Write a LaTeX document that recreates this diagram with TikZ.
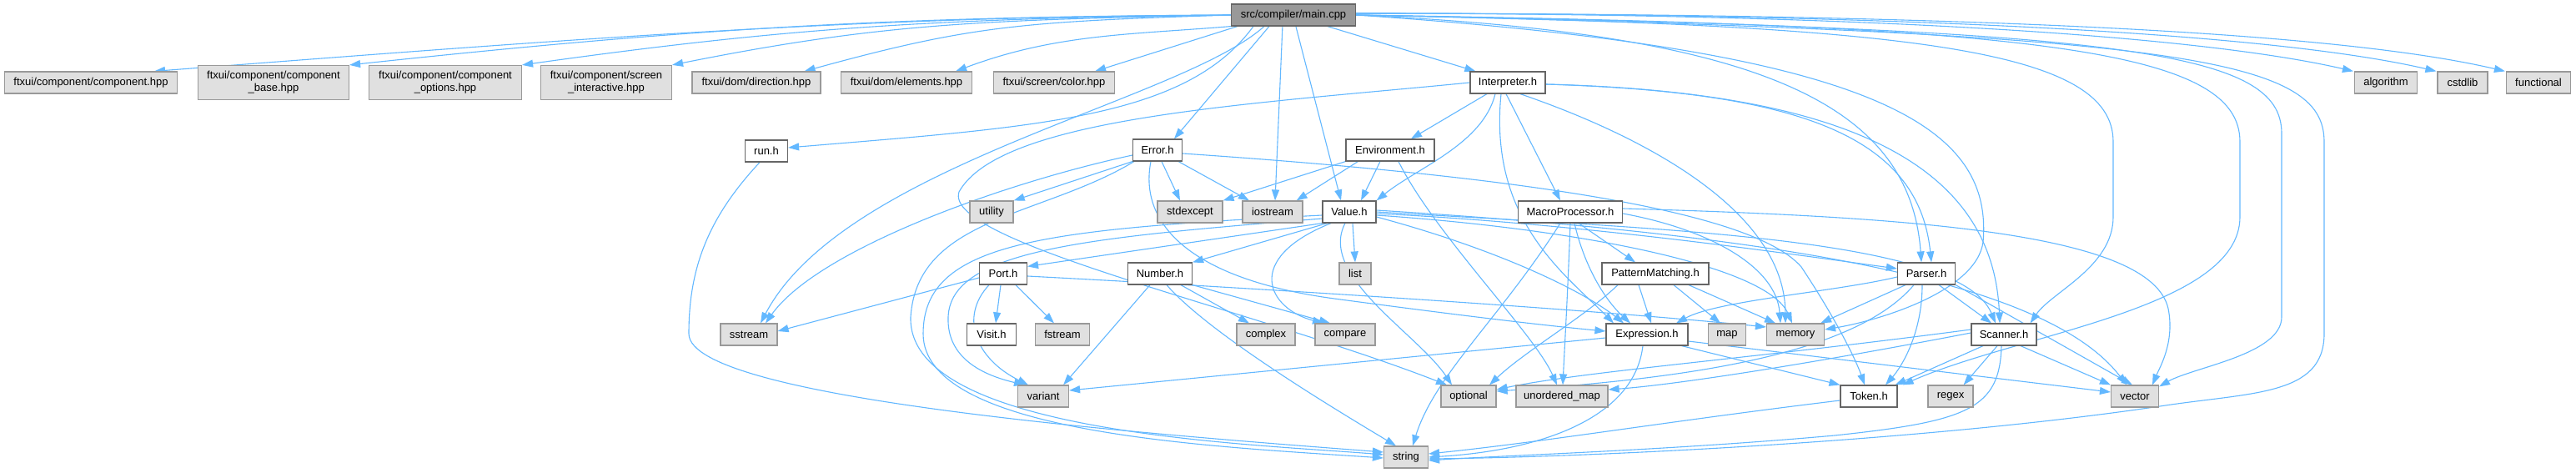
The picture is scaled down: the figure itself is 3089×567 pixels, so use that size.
\documentclass[tikz,border=0pt]{standalone}
\usepackage{fontspec}
\setmainfont{Liberation Sans}
\usetikzlibrary{arrows.meta}
\definecolor{edgeblue}{HTML}{63B8FF}
\definecolor{gfill}{HTML}{E0E0E0}
\definecolor{gline}{HTML}{999999}
\definecolor{wline}{HTML}{666666}
\definecolor{mfill}{HTML}{999999}
\pgfdeclarelayer{bg}
\pgfsetlayers{bg,main}
\tikzset{
  nbase/.style={rectangle, line width=1.2pt, inner sep=0pt, minimum height=26pt, align=center, font=\fontsize{13}{15}\selectfont},
  gbox/.style={nbase, draw=gline, fill=gfill},
  wbox/.style={nbase, draw=wline, fill=white},
  mbox/.style={nbase, draw=wline, fill=mfill},
  tall/.style={minimum height=41pt},
  e/.style={draw=edgeblue, line width=1.1pt, -{Triangle[length=13pt,width=9pt]}}
}
\begin{document}
\begin{tikzpicture}[x=1pt,y=1pt]
\useasboundingbox (0,0) rectangle (3089,-567);
% row 0
\node[mbox, minimum width=149pt] (main) at (1551,-18) {src/compiler/main.cpp};
% row 1
\node[gbox, minimum width=207pt] (comp) at (109,-99) {ftxui/component/component.hpp};
\node[gbox, tall, minimum width=181pt] (cbase) at (328,-99) {ftxui/component/component\\\_base.hpp};
\node[gbox, tall, minimum width=183pt] (copt) at (534,-99) {ftxui/component/component\\\_options.hpp};
\node[gbox, tall, minimum width=157pt] (scr) at (727,-99) {ftxui/component/screen\\\_interactive.hpp};
\node[gbox, minimum width=154pt] (dir) at (907,-99) {ftxui/dom/direction.hpp};
\node[gbox, minimum width=157pt] (elem) at (1087,-99) {ftxui/dom/elements.hpp};
\node[gbox, minimum width=145pt] (color) at (1264,-99) {ftxui/screen/color.hpp};
\node[wbox, minimum width=90pt] (interp) at (1808,-99) {Interpreter.h};
\node[gbox, minimum width=75pt] (algo) at (2861,-99) {algorithm};
\node[gbox, minimum width=60pt] (cstd) at (2953,-99) {cstdlib};
\node[gbox, minimum width=77pt] (func) at (3044,-99) {functional};
% row 2
\node[wbox, minimum width=51pt] (run) at (919,-181) {run.h};
\node[wbox, minimum width=59pt] (error) at (1388,-180) {Error.h};
\node[wbox, minimum width=106pt] (env) at (1667,-180) {Environment.h};
% row 3
\node[gbox, minimum width=52pt] (util) at (1189,-254) {utility};
\node[gbox, minimum width=78pt] (stdex) at (1427,-254) {stdexcept};
\node[gbox, minimum width=72pt] (ios) at (1526,-254) {iostream};
\node[wbox, minimum width=64pt] (value) at (1618,-254) {Value.h};
\node[wbox, minimum width=125pt] (macro) at (1883,-254) {MacroProcessor.h};
% row 4
\node[wbox, minimum width=57pt] (port) at (1203,-328) {Port.h};
\node[wbox, minimum width=77pt] (number) at (1391,-328) {Number.h};
\node[gbox, minimum width=38pt] (list) at (1625,-328) {list};
\node[wbox, minimum width=128pt] (pm) at (1985,-328) {PatternMatching.h};
\node[wbox, minimum width=69pt] (parser) at (2310,-328) {Parser.h};
% row 5
\node[gbox, minimum width=68pt] (sstream) at (898,-401) {sstream};
\node[wbox, minimum width=59pt] (visit) at (1189,-401) {Visit.h};
\node[gbox, minimum width=65pt] (fstream) at (1274,-401) {fstream};
\node[gbox, minimum width=70pt] (complex) at (1518,-401) {complex};
\node[gbox, minimum width=72pt] (compare) at (1613,-401) {compare};
\node[wbox, minimum width=98pt] (expr) at (1975,-401) {Expression.h};
\node[gbox, minimum width=45pt] (map) at (2071,-401) {map};
\node[gbox, minimum width=69pt] (memory) at (2153,-401) {memory};
\node[wbox, minimum width=78pt] (scanner) at (2403,-401) {Scanner.h};
% row 6
\node[gbox, minimum width=61pt] (variant) at (1251,-475) {variant};
\node[gbox, minimum width=66pt] (optional) at (1761,-475) {optional};
\node[gbox, minimum width=110pt] (umap) at (1873,-475) {unordered\_map};
\node[wbox, minimum width=68pt] (token) at (2241,-475) {Token.h};
\node[gbox, minimum width=54pt] (regex) at (2339,-475) {regex};
\node[gbox, minimum width=57pt] (vector) at (2560,-475) {vector};
% row 7
\node[gbox, minimum width=53pt] (string) at (1686,-548) {string};

\begin{pgfonlayer}{bg}
\fill[white] (0,0) rectangle (3089,-567);
% main.cpp
\draw[e] (main.west) .. controls +(-450,-2) and +(520,40) .. ([xshift=76pt]comp.north);
\draw[e] (main.west) .. controls +(-400,-2) and +(420,45) .. (cbase.north east);
\draw[e] (main.west) .. controls +(-350,-4) and +(320,45) .. (copt.north east);
\draw[e] (main.west) .. controls +(-300,-6) and +(250,50) .. (scr.north east);
\draw[e] (main.west) .. controls +(-250,-8) and +(200,55) .. ([xshift=-20pt]dir.north east);
\draw[e] (main.south west) .. controls +(-120,-10) and +(120,45) .. ([xshift=-20pt]elem.north east);
\draw[e] ([xshift=8pt]main.south west) -- ([xshift=-24pt]color.north east);
\draw[e] ([xshift=27pt]main.south west) .. controls +(-80,-110) and +(300,25) .. ([yshift=4pt]run.east);
\draw[e] ([xshift=40pt]main.south west) .. controls +(-100,-90) and +(100,190) .. ([xshift=14pt]sstream.north);
\draw[e] ([xshift=46pt]main.south west) -- ([xshift=20pt]error.north);
\draw[e] ([xshift=62pt]main.south west) -- ([xshift=3pt]ios.north);
\draw[e] ([xshift=78pt]main.south west) -- ([xshift=-10pt]value.north);
\draw[e] ([xshift=116pt]main.south west) -- ([xshift=7pt]interp.north west);
\draw[e] ([yshift=2pt]main.east) .. controls +(700,0) and +(-150,35) .. ([xshift=-1pt]algo.north west);
\draw[e] ([yshift=2pt]main.east) .. controls +(800,0) and +(-150,35) .. ([xshift=-1pt]cstd.north west);
\draw[e] ([yshift=2pt]main.east) .. controls +(900,0) and +(-150,35) .. ([xshift=-1pt]func.north west);
\draw[e] (main.east) .. controls (2550,-35) and (2736,-60) .. (2736,-160) -- (2736,-380) .. controls (2736,-425) and (2630,-440) .. ([yshift=-2pt]vector.north east);
\draw[e] (main.east) .. controls (2620,-40) and (2787,-70) .. (2787,-170) -- (2787,-400) .. controls (2787,-475) and (2700,-470) .. (2590,-487) .. controls (2300,-530) and (1900,-548) .. ([yshift=-2pt]string.east);
\draw[e] (main.east) .. controls (2450,-30) and (2686,-60) .. (2686,-170) -- (2686,-260) .. controls (2686,-370) and (2420,-400) .. ([xshift=6pt]token.north east);
\draw[e] (main.east) .. controls (2300,-30) and (2534,-60) .. (2534,-170) -- (2534,-260) .. controls (2534,-320) and (2460,-350) .. ([xshift=-8pt]scanner.north east);
\draw[e] (main.east) .. controls (2100,-40) and (2290,-120) .. ([xshift=-6pt]parser.north);
\draw[e] (main.east) .. controls (2250,-60) and (2390,-150) .. (2378,-290) .. controls (2370,-350) and (2250,-385) .. ([yshift=6pt]memory.east);
% Interpreter.h
\draw[e] ([xshift=-25pt]interp.south) -- ([xshift=25pt]env.north);
\draw[e] ([xshift=-15pt]interp.south) .. controls +(-15,-60) and +(50,40) .. (value.north east);
\draw[e] ([xshift=-2pt]interp.south) -- ([xshift=-12pt]macro.north);
\draw[e] ([xshift=-8pt]interp.south) .. controls +(-15,-150) and +(-60,60) .. ([xshift=-40pt]expr.north);
\draw[e] (interp.west) .. controls (1500,-125) and (1200,-140) .. (1150,-230) .. controls (1130,-290) and (1500,-370) .. ([xshift=-26pt]optional.north);
\draw[e] ([yshift=-2pt]interp.east) .. controls (2150,-110) and (2300,-160) .. ([xshift=6pt]parser.north);
\draw[e] ([yshift=-2pt]interp.east) .. controls (2220,-110) and (2390,-200) .. ([xshift=-5pt]scanner.north);
\draw[e] ([xshift=15pt]interp.south) .. controls (1990,-170) and (2140,-260) .. ([xshift=-12pt]memory.north);
% Environment.h
\draw[e] (env.south west) -- (stdex.north east);
\draw[e] ([xshift=15pt]env.south west) -- ([xshift=-8pt]ios.north east);
\draw[e] ([xshift=-12pt]env.south) -- ([xshift=14pt]value.north);
\draw[e] ([xshift=10pt]env.south) .. controls (1720,-280) and (1840,-400) .. ([xshift=-6pt]umap.north);
% Error.h
\draw[e] (error.south west) -- (util.north east);
\draw[e] ([xshift=5pt]error.south) -- ([xshift=-12pt]stdex.north);
\draw[e] ([xshift=-5pt]error.south east) -- ([xshift=-28pt]ios.north);
\draw[e] ([yshift=-6pt]error.west) .. controls (1200,-220) and (980,-300) .. ([xshift=20pt]sstream.north);
\draw[e] ([xshift=2pt]error.south west) .. controls (1250,-260) and (1100,-260) .. (1092,-380) .. controls (1088,-520) and (1500,-532) .. ([yshift=3pt]string.west);
\draw[e] ([xshift=-8pt]error.south) .. controls (1365,-270) and (1430,-335) .. (1600,-358) .. controls (1750,-378) and (1850,-390) .. ([yshift=4pt]expr.west);
\draw[e] ([yshift=-4pt]error.east) .. controls (1800,-210) and (2100,-250) .. (2160,-320) .. controls (2200,-380) and (2225,-430) .. ([xshift=-5pt]token.north);
% Value.h
\draw[e] ([xshift=4pt]value.south) -- (list.north);
\draw[e] (value.south west) -- ([yshift=-5pt]port.north east);
\draw[e] ([xshift=6pt]value.south west) -- (number.north east);
\draw[e] ([yshift=-8pt]value.west) .. controls (1300,-285) and (1140,-300) .. (1137,-380) .. controls (1135,-430) and (1180,-450) .. ([xshift=-22pt]variant.north);
\draw[e] ([yshift=-4pt]value.west) .. controls (1250,-275) and (1107,-290) .. (1107,-400) .. controls (1107,-520) and (1450,-535) .. ([yshift=-1pt]string.west);
\draw[e] ([xshift=-5pt]value.south) .. controls (1580,-330) and (1700,-400) .. ([xshift=-20pt]optional.north);
\draw[e] ([xshift=-22pt]value.south) .. controls (1490,-310) and (1520,-370) .. ([xshift=-26pt]compare.north);
\draw[e] ([yshift=-6pt]value.east) .. controls (1800,-300) and (1900,-350) .. ([xshift=-28pt]expr.north);
\draw[e] ([yshift=-4pt]value.east) .. controls (1900,-275) and (2120,-320) .. ([xshift=-4pt]memory.north);
\draw[e] ([yshift=-2pt]value.east) .. controls (1900,-268) and (2150,-305) .. ([yshift=6pt]parser.west);
\draw[e] ([yshift=0pt]value.east) .. controls (2000,-275) and (2350,-285) .. ([xshift=-10pt]scanner.north);
\draw[e] ([yshift=2pt]value.east) .. controls (2100,-280) and (2450,-330) .. ([xshift=-10pt]vector.north);
% MacroProcessor.h
\draw[e] ([xshift=10pt]macro.south) -- ([xshift=-24pt]pm.north);
\draw[e] ([xshift=5pt]macro.south) .. controls (1900,-320) and (1925,-360) .. ([xshift=-20pt]expr.north);
\draw[e] (macro.south) .. controls (1880,-350) and (1876,-420) .. ([xshift=1pt]umap.north);
\draw[e] ([xshift=-12pt]macro.south) .. controls (1800,-380) and (1720,-450) .. ([xshift=8pt]string.north);
\draw[e] ([yshift=4pt]macro.east) .. controls (2300,-260) and (2580,-280) .. (2600,-370) .. controls (2608,-410) and (2590,-440) .. ([xshift=21pt]vector.north);
\draw[e] ([yshift=-2pt]macro.east) .. controls (2050,-275) and (2130,-320) .. ([xshift=-18pt]memory.north);
% PatternMatching.h
\draw[e] ([xshift=-20pt]pm.south) -- ([xshift=5pt]expr.north);
\draw[e] ([xshift=40pt]pm.south) -- ([xshift=-24pt]memory.north);
\draw[e] ([xshift=22pt]pm.south) -- ([xshift=-8pt]map.north);
\draw[e] ([xshift=-45pt]pm.south) .. controls (1900,-380) and (1830,-420) .. ([xshift=25pt]optional.north);
% Port.h
\draw[e] ([yshift=-5pt]port.west) -- ([yshift=4pt]sstream.east);
\draw[e] ([xshift=-3pt]port.south) -- ([xshift=5pt]visit.north);
\draw[e] ([xshift=15pt]port.south) -- ([xshift=-10pt]fstream.north);
\draw[e] ([xshift=-17pt]port.south) .. controls (1150,-380) and (1170,-430) .. ([xshift=-18pt]variant.north);
\draw[e] ([yshift=-3pt]port.east) .. controls (1500,-345) and (1900,-370) .. ([yshift=9pt]memory.west);
% Number.h
\draw[e] ([xshift=25pt]number.south) -- ([xshift=-20pt]complex.north);
\draw[e] (number.south east) -- ([xshift=-18pt]compare.north);
\draw[e] ([xshift=-12pt]number.south) -- ([xshift=-7pt]variant.north east);
\draw[e] ([xshift=8pt]number.south) .. controls (1450,-400) and (1600,-490) .. ([xshift=-12pt]string.north);
% Parser.h
\draw[e] ([yshift=-4pt]parser.west) .. controls (2200,-350) and (2060,-360) .. ([xshift=35pt]expr.north);
\draw[e] ([xshift=-25pt]parser.south) -- ([xshift=-5pt]memory.north east);
\draw[e] ([xshift=15pt]parser.south) -- ([xshift=-15pt]scanner.north);
\draw[e] ([xshift=-5pt]parser.south) .. controls (2305,-400) and (2280,-440) .. ([xshift=20pt]token.north);
\draw[e] (parser.south east) -- ([xshift=-3pt]vector.north);
\draw[e] ([xshift=-15pt]parser.south) .. controls (2220,-430) and (2000,-455) .. ([yshift=6pt]optional.east);
% Scanner.h
\draw[e] ([xshift=-25pt]scanner.south) -- ([xshift=-3pt]token.north east);
\draw[e] ([xshift=-8pt]scanner.south) -- ([xshift=-12pt]regex.north east);
\draw[e] ([xshift=20pt]scanner.south) -- (vector.north west);
\draw[e] ([xshift=-3pt]scanner.south) .. controls (2398,-490) and (2360,-505) .. (2200,-522) .. controls (2000,-540) and (1800,-546) .. ([yshift=-4pt]string.east);
\draw[e] ([yshift=6pt]scanner.west) .. controls (2100,-430) and (1900,-445) .. ([yshift=8pt]optional.east);
\draw[e] ([yshift=2pt]scanner.west) .. controls (2150,-440) and (2000,-462) .. ([yshift=8pt]umap.east);
% Expression.h
\draw[e] ([yshift=-4pt]expr.west) -- ([yshift=7pt]variant.east);
\draw[e] ([xshift=-5pt]expr.south) .. controls (1960,-500) and (1850,-540) .. ([yshift=0pt]string.east);
\draw[e] ([xshift=-8pt]expr.south east) -- (token.north west);
\draw[e] ([yshift=-8pt]expr.east) -- ([yshift=5pt]vector.west);
% Token.h
\draw[e] ([yshift=-5pt]token.west) .. controls (2000,-505) and (1850,-530) .. ([yshift=4pt]string.east);
% run.h
\draw[e] ([xshift=-8pt]run.south) .. controls (850,-260) and (826,-320) .. (826,-400) .. controls (826,-480) and (1400,-522) .. ([yshift=6pt]string.west);
\end{pgfonlayer}
\end{tikzpicture}
\end{document}
